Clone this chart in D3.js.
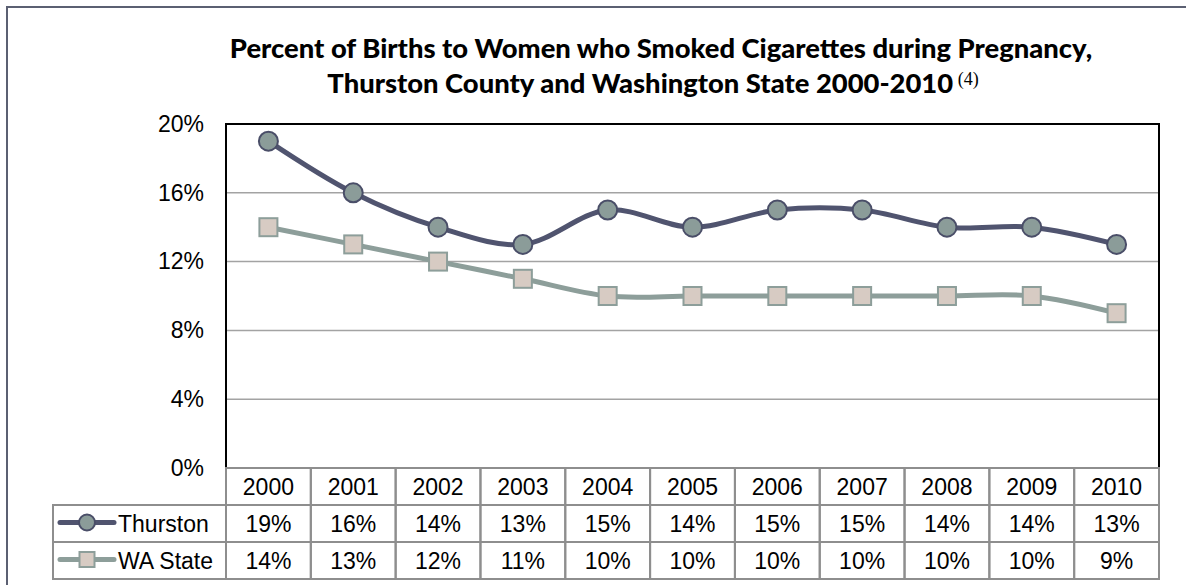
<!DOCTYPE html>
<html>
<head>
<meta charset="utf-8">
<script src="https://cdn.jsdelivr.net/npm/d3@7"></script>
<style>
  body { margin: 0; background: #fff; }
  svg { display: block; }
</style>
</head>
<body>
<svg id="chart" width="1186" height="585"></svg>
<script>
// data

var years = ["2000","2001","2002","2003","2004","2005","2006","2007","2008","2009","2010"];
var thurston = [19, 16, 14, 13, 15, 14, 15, 15, 14, 14, 13];
var waState = [14, 13, 12, 11, 10, 10, 10, 10, 10, 10, 9];
var yTicks = [0, 4, 8, 12, 16, 20];
var seriesNames = ["Thurston", "WA State"];

// layout

var plotLeft = 226, plotRight = 1159, plotTop = 124, plotBottom = 468;
var rowH = 37;
var legendLeft = 53;
var font = "'Liberation Sans', Arial, sans-serif";
var textSize = 23;

var svg = d3.select("#chart");

var x = d3.scaleBand().domain(years).range([plotLeft, plotRight]).padding(0);
var y = d3.scaleLinear().domain([0, 20]).range([plotBottom, plotTop]);

// outer frame (only top and left show in the picture)

svg.append("rect")
  .attr("x", 7).attr("y", 7)
  .attr("width", 1300).attr("height", 700)
  .attr("fill", "none")
  .attr("stroke", "#5b6072")
  .attr("stroke-width", 2);

// title

var title = svg.append("g").attr("font-family", "Lato, 'Open Sans', sans-serif")
  .attr("font-weight", 900).attr("fill", "#000");

var t1 = title.append("text")
  .attr("x", 661).attr("y", 58)
  .attr("text-anchor", "middle")
  .attr("font-size", 22)
  .text("Percent of Births to Women who Smoked Cigarettes during Pregnancy,");

// scale title so the first line spans like the original
var w1 = t1.node().getComputedTextLength();
var titleSize = 22 * 863 / w1;
t1.attr("font-size", titleSize);

var t2 = title.append("text")
  .attr("y", 93)
  .attr("font-size", titleSize);
t2.append("tspan").text("Thurston County and Washington State 2000-2010");
t2.append("tspan")
  .attr("font-family", "'Liberation Serif', 'Times New Roman', serif")
  .attr("font-weight", 400)
  .attr("font-size", 18)
  .attr("dy", -8)
  .text(" (4)");
var w2 = t2.node().getComputedTextLength();
t2.attr("x", 653 - w2 / 2);

// grid lines

svg.append("g").selectAll("line")
  .data(yTicks.filter(function (d) { return d > 0 && d < 20; }))
  .enter().append("line")
  .attr("x1", plotLeft).attr("x2", plotRight)
  .attr("y1", function (d) { return y(d); })
  .attr("y2", function (d) { return y(d); })
  .attr("stroke", "#a3a3a3")
  .attr("stroke-width", 1.5);

// y axis labels

var yAxis = d3.axisLeft(y)
  .tickValues(yTicks)
  .tickSize(0)
  .tickPadding(22)
  .tickFormat(function (d) { return d + "%"; });

svg.append("g")
  .attr("transform", "translate(" + plotLeft + ",0)")
  .call(yAxis)
  .call(function (g) { g.select(".domain").remove(); })
  .selectAll("text")
  .attr("font-family", font)
  .attr("font-size", textSize)
  .attr("fill", "#000");

// plot border

svg.append("rect")
  .attr("x", plotLeft).attr("y", plotTop)
  .attr("width", plotRight - plotLeft)
  .attr("height", plotBottom - plotTop)
  .attr("fill", "none")
  .attr("stroke", "#000")
  .attr("stroke-width", 2);

// lines

var cx = function (d, i) { return x(years[i]) + x.bandwidth() / 2; };

var line = d3.line()
  .x(cx)
  .y(function (d) { return y(d); })
  .curve(d3.curveCatmullRom.alpha(0.5));

svg.append("path")
  .datum(waState)
  .attr("d", line)
  .attr("fill", "none")
  .attr("stroke", "#8d9e9a")
  .attr("stroke-width", 5);

svg.append("path")
  .datum(thurston)
  .attr("d", line)
  .attr("fill", "none")
  .attr("stroke", "#50546f")
  .attr("stroke-width", 5);

// markers

var sq = 18;
svg.append("g").selectAll("rect")
  .data(waState)
  .enter().append("rect")
  .attr("x", function (d, i) { return cx(d, i) - sq / 2; })
  .attr("y", function (d) { return y(d) - sq / 2; })
  .attr("width", sq).attr("height", sq)
  .attr("fill", "#d7cbc3")
  .attr("stroke", "#8d9e9a")
  .attr("stroke-width", 2);

svg.append("g").selectAll("circle")
  .data(thurston)
  .enter().append("circle")
  .attr("cx", cx)
  .attr("cy", function (d) { return y(d); })
  .attr("r", 9.5)
  .attr("fill", "#8b9c99")
  .attr("stroke", "#4a4e68")
  .attr("stroke-width", 2);

// data table

var table = svg.append("g");
var gridColor = "#8e8e8e";

// year row cells
table.selectAll(".yearCell")
  .data(years)
  .enter().append("rect")
  .attr("class", "yearCell")
  .attr("x", function (d) { return x(d); })
  .attr("y", plotBottom)
  .attr("width", x.bandwidth())
  .attr("height", rowH)
  .attr("fill", "none")
  .attr("stroke", gridColor)
  .attr("stroke-width", 2);

table.selectAll(".yearText")
  .data(years)
  .enter().append("text")
  .attr("x", function (d) { return x(d) + x.bandwidth() / 2; })
  .attr("y", plotBottom + rowH / 2)
  .attr("dy", "0.36em")
  .attr("text-anchor", "middle")
  .attr("font-family", font)
  .attr("font-size", textSize)
  .text(function (d) { return d; });

// series rows
var rows = [thurston, waState];
rows.forEach(function (vals, r) {
  var top = plotBottom + rowH * (r + 1);

  table.append("rect")
    .attr("x", legendLeft).attr("y", top)
    .attr("width", plotLeft - legendLeft).attr("height", rowH)
    .attr("fill", "none")
    .attr("stroke", gridColor)
    .attr("stroke-width", 2);

  table.selectAll(".cell" + r)
    .data(vals)
    .enter().append("rect")
    .attr("x", function (d, i) { return x(years[i]); })
    .attr("y", top)
    .attr("width", x.bandwidth())
    .attr("height", rowH)
    .attr("fill", "none")
    .attr("stroke", gridColor)
    .attr("stroke-width", 2);

  table.selectAll(".val" + r)
    .data(vals)
    .enter().append("text")
    .attr("x", function (d, i) { return x(years[i]) + x.bandwidth() / 2; })
    .attr("y", top + rowH / 2)
    .attr("dy", "0.36em")
    .attr("text-anchor", "middle")
    .attr("font-family", font)
    .attr("font-size", textSize)
    .text(function (d) { return d + "%"; });

  // legend key
  var ly = top + rowH / 2 - 1;
  table.append("line")
    .attr("x1", 60).attr("x2", 114)
    .attr("y1", ly).attr("y2", ly)
    .attr("stroke", r === 0 ? "#50546f" : "#8d9e9a")
    .attr("stroke-width", 5)
    .attr("stroke-linecap", "round");

  if (r === 0) {
    table.append("circle")
      .attr("cx", 87).attr("cy", ly).attr("r", 8)
      .attr("fill", "#8b9c99").attr("stroke", "#4a4e68").attr("stroke-width", 2);
  } else {
    table.append("rect")
      .attr("x", 87 - 7.5).attr("y", ly - 7.5).attr("width", 15).attr("height", 15)
      .attr("fill", "#d7cbc3").attr("stroke", "#8d9e9a").attr("stroke-width", 2);
  }

  table.append("text")
    .attr("x", 118)
    .attr("y", top + rowH / 2)
    .attr("dy", "0.36em")
    .attr("font-family", font)
    .attr("font-size", textSize)
    .text(seriesNames[r]);
});
</script>
</body>
</html>
